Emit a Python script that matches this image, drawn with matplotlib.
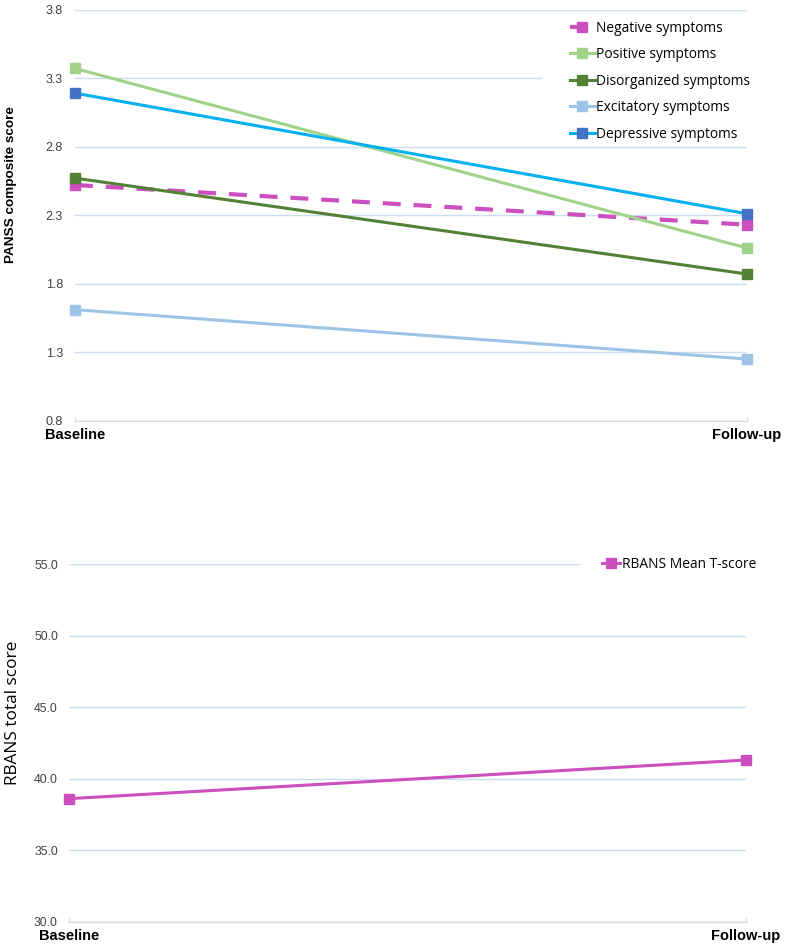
import matplotlib.pyplot as plt
import matplotlib as mpl
from matplotlib.patches import Rectangle

mpl.rcParams['font.family'] = ['Liberation Sans', 'DejaVu Sans']

timepoints = ['Baseline', 'Follow-up']

panss_labels = ['Negative symptoms', 'Positive symptoms', 'Disorganized symptoms',
                'Excitatory symptoms', 'Depressive symptoms']
negative = [2.52, 2.23]
positive = [3.37, 2.06]
disorganized = [2.57, 1.87]
excitatory = [1.61, 1.25]
depressive = [3.19, 2.31]

rbans_label = 'RBANS Mean T-score'
rbans = [38.6, 41.3]

panss_ticks = [0.8, 1.3, 1.8, 2.3, 2.8, 3.3, 3.8]
rbans_ticks = [30.0, 35.0, 40.0, 45.0, 50.0, 55.0]

grid_color = '#cddcee'
tick_color = '#404040'
legend_font = 'Open Sans'

fig = plt.figure(figsize=(7.85, 9.51), dpi=100)
ax1 = fig.add_axes([0.0955, 0.5576, 0.8561, 0.4324])
ax2 = fig.add_axes([0.0879, 0.0308, 0.8624, 0.3761])

x = list(range(len(timepoints)))

# top panel
styles = [
    (negative, '#cc4fc0', '#cc4fc0', (0, (4.3, 3.1)), 3.0),
    (positive, '#a0d28a', '#a0d28a', '-', 2.2),
    (disorganized, '#538135', '#538135', '-', 2.2),
    (excitatory, '#9dc3e6', '#9dc3e6', '-', 2.2),
    (depressive, '#00b0f0', '#4472c4', '-', 2.2),
]
for (vals, lc, mc, ls, lw), lab in zip(styles, panss_labels):
    ax1.plot(x, vals, color=lc, linestyle=ls, lw=lw, marker='s', markersize=7,
             markerfacecolor=mc, markeredgecolor=mc, label=lab, clip_on=False,
             zorder=3)

ax2.plot(x, rbans, color='#cc4fc0', lw=2.2, marker='s', markersize=7,
         label=rbans_label, clip_on=False, zorder=3)

for ax, ticks, lsize, pad in [(ax1, panss_ticks, 9, 8.6), (ax2, rbans_ticks, 8.7, 8)]:
    ax.set_xlim(0, 1)
    ax.set_ylim(ticks[0], ticks[-1])
    ax.set_yticks(ticks)
    ax.set_yticklabels(['{:.1f}'.format(t) for t in ticks])
    ax.set_xticks(x)
    ax.set_xticklabels(timepoints, fontweight='bold', fontsize=10.5)
    for side in ['top', 'right', 'left']:
        ax.spines[side].set_visible(False)
    ax.spines['bottom'].set_color('#d9d9d9')
    ax.spines['bottom'].set_linewidth(1)
    ax.grid(axis='y', color=grid_color, lw=1)
    ax.set_axisbelow(True)
    ax.tick_params(axis='y', length=0, labelsize=lsize, labelcolor=tick_color,
                   pad=pad)
    ax.tick_params(axis='x', direction='in', length=3, color='#d9d9d9',
                   labelcolor='black', pad=5)

# white legend areas that break the gridlines, as in the original
ax1.add_patch(Rectangle((0.695, 2.85), 0.33, 0.87, facecolor='white',
                        edgecolor='none', zorder=1.5, clip_on=False))
ax2.add_patch(Rectangle((0.755, 54.5), 0.27, 1.0, facecolor='white',
                        edgecolor='none', zorder=1.5, clip_on=False))

fig.text(0.014, 1 - 185 / 951, 'PANSS composite score', rotation=90,
         ha='center', va='center', fontsize=9.7, fontweight='bold')
fig.text(0.016, 1 - 713 / 951, 'RBANS total score', rotation=90,
         ha='center', va='center', fontsize=12.4, family=legend_font)

leg1 = ax1.legend(loc='upper left', bbox_to_anchor=(0.7203, 1.0), frameon=False,
                  prop={'family': legend_font, 'size': 9.9}, handlelength=1.8,
                  handletextpad=0.1, labelspacing=0.84, borderpad=0.3)

leg2 = ax2.legend(loc='center left', bbox_to_anchor=(0.7717, 1.0), frameon=False,
                  prop={'family': legend_font, 'size': 9.9}, handlelength=1.3,
                  handletextpad=0.1, borderpad=0.3)

fig.savefig('out.png', dpi=100)
